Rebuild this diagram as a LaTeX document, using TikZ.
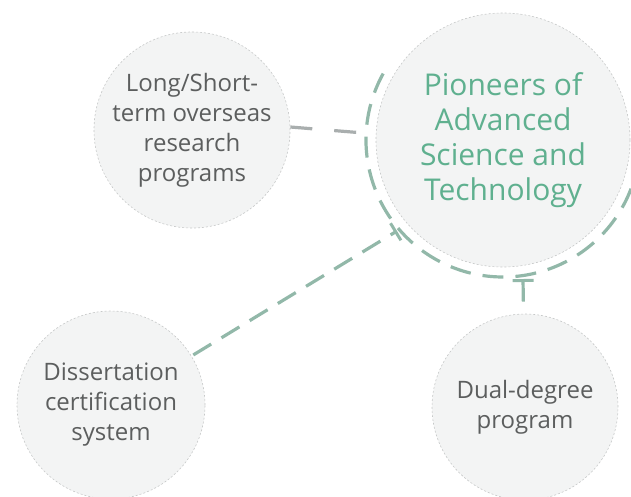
\documentclass[tikz,border=0pt]{standalone}
\usepackage{fontspec}
\setmainfont{Open Sans}
\usetikzlibrary{arrows.meta}

\definecolor{ringgreen}{HTML}{92B8A9}
\definecolor{linkgray}{HTML}{A9AEAE}
\definecolor{titlegreen}{HTML}{5FB08F}
\definecolor{bubblefill}{HTML}{F3F4F4}
\definecolor{bubbleedge}{HTML}{C6C8C8}
\definecolor{textgray}{HTML}{5C5E5E}

\tikzset{
  bubble/.style={circle, fill=bubblefill, draw=bubbleedge, line width=0.6pt,
    dash pattern=on 2pt off 2pt, align=center, inner sep=0pt,
    text=textgray, font=\fontsize{24}{30}\selectfont},
  link/.style={line width=3.2pt, dash pattern=on 21pt off 12pt, draw=ringgreen}
}

\begin{document}
\begin{tikzpicture}[x=1pt,y=-1pt]

  \useasboundingbox (0,0) rectangle (631,496);
  \clip (0,0) rectangle (631,496);

  % nodes
  \node[bubble, minimum size=254pt, text=titlegreen,
        font=\fontsize{30}{35}\selectfont] (pioneers) at (503,140)
        {Pioneers of\\Advanced\\Science and\\Technology};
  \node[bubble, minimum size=188pt] (overseas) at (192,130)
        {Long/Short-\\term overseas\\research\\programs};
  \node[bubble, minimum size=188pt] (dissertation) at (111,405)
        {Dissertation\\certification\\system};
  \node[bubble, minimum size=186pt] (dualdeg) at (525,407)
        {Dual-degree\\program};

  % ring ends
  \coordinate (ringW) at (364,133);
  \coordinate (ringSW) at (397,231);
  \coordinate (ringS) at (523,279);

  % ring
  \draw[link] (pioneers.center) ++(209:137) arc (209:15:137);

  % links
  \draw[link, draw=linkgray, dash pattern=on 22pt off 22pt]
    ([yshift=3pt]overseas.east) -- (ringW);
  \draw[link, -{Bar[width=20pt,line width=3pt]}, shorten <=2pt]
    (dissertation) -- (ringSW);
  \draw[link, solid, -{Bar[width=21pt,line width=3pt]}, shorten <=12pt]
    (dualdeg) -- (ringS);

\end{tikzpicture}
\end{document}
